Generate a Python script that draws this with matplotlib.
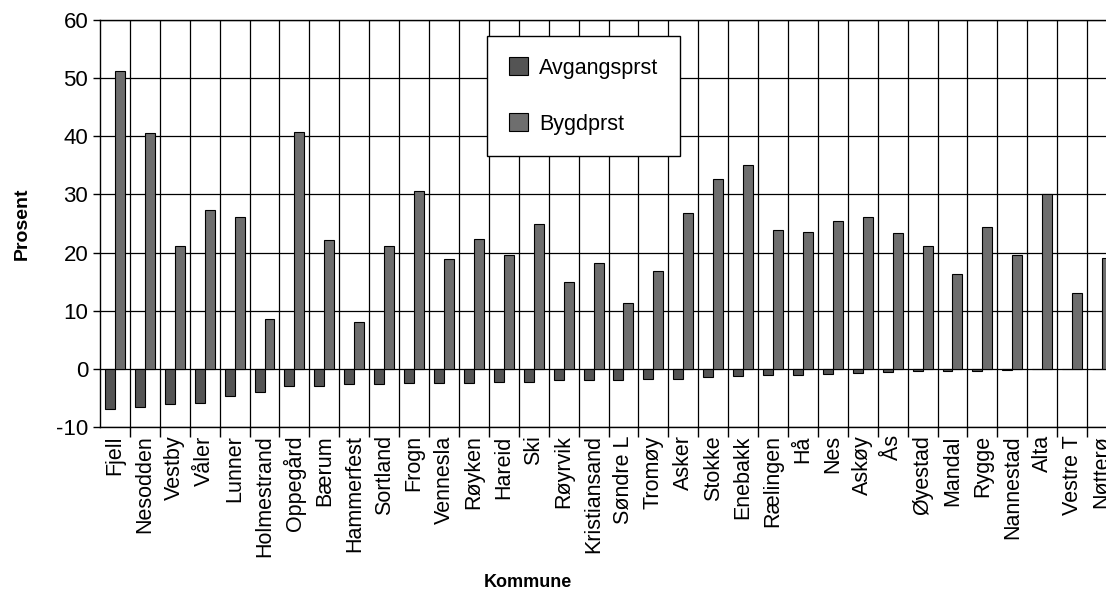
import matplotlib.pyplot as plt
import numpy as np

plt.rcParams['font.family'] = ['Liberation Sans', 'DejaVu Sans']
plt.rcParams['axes.unicode_minus'] = False

kommuner = ['Fjell', 'Nesodden', 'Vestby', 'Våler', 'Lunner', 'Holmestrand',
            'Oppegård', 'Bærum', 'Hammerfest', 'Sortland', 'Frogn', 'Vennesla',
            'Røyken', 'Hareid', 'Ski', 'Røyrvik', 'Kristiansand', 'Søndre L',
            'Tromøy', 'Asker', 'Stokke', 'Enebakk', 'Rælingen', 'Hå', 'Nes',
            'Askøy', 'Ås', 'Øyestad', 'Mandal', 'Rygge', 'Nannestad', 'Alta',
            'Vestre T', 'Nøtterø']

avgangsprst = [-6.9, -6.5, -6.0, -5.8, -4.7, -4.0, -3.0, -2.9, -2.6, -2.6,
               -2.5, -2.5, -2.4, -2.2, -2.2, -2.0, -1.9, -1.9, -1.8, -1.8,
               -1.4, -1.3, -1.1, -1.0, -0.9, -0.7, -0.6, -0.35, -0.3, -0.3,
               -0.2, -0.1, -0.1, -0.05]

bygdprst = [51.3, 40.5, 21.1, 27.4, 26.2, 8.5, 40.8, 22.2, 8.0, 21.1,
            30.6, 18.9, 22.3, 19.5, 24.9, 14.9, 18.2, 11.4, 16.9, 26.8,
            32.6, 35.0, 23.8, 23.5, 25.4, 26.1, 23.4, 21.1, 16.3, 24.4,
            19.6, 30.0, 13.0, 19.0]

y_ticks = [-10, 0, 10, 20, 30, 40, 50, 60]

fig = plt.figure(figsize=(11.06, 5.98), dpi=100)
ax = fig.add_axes([100 / 1106, 1 - 427 / 598, 1017 / 1106, 407 / 598])

x = np.arange(len(kommuner))
w = 1 / 3
ax.bar(x - w / 2, avgangsprst, w, color='#545454', edgecolor='black',
       linewidth=0.8, label='Avgangsprst', zorder=3)
ax.bar(x + w / 2, bygdprst, w, color='#6e6e6e', edgecolor='black',
       linewidth=0.8, label='Bygdprst', zorder=3)

ax.set_xlim(-0.5, len(kommuner) - 0.5)
ax.set_ylim(-10, 60)
ax.set_yticks(y_ticks)
ax.set_xticks(x)
ax.set_xticklabels(kommuner, rotation=90, fontsize=15.5)
ax.set_xticks(x[:-1] + 0.5, minor=True)
ax.tick_params(axis='x', which='major', length=0, pad=6)
ax.tick_params(axis='x', which='minor', length=7, width=1, color='black')
ax.tick_params(axis='y', labelsize=16, length=5, width=1)

ax.grid(True, axis='y', color='black', linewidth=0.9, zorder=0)
ax.grid(True, axis='x', which='minor', color='black', linewidth=0.9, zorder=0)
for s in ax.spines.values():
    s.set_color('black')
    s.set_linewidth(1)

ax.set_ylabel('Prosent', fontsize=14, fontweight='bold')
ax.yaxis.set_label_coords(-0.068, 0.5)
ax.set_xlabel('Kommune', fontsize=13, fontweight='bold')
ax.xaxis.set_label_coords(0.421, -0.36)

leg = ax.legend(loc='upper left', bbox_to_anchor=(0.381, 0.961), fontsize=15.5,
                handlelength=0.9, handleheight=0.9, handletextpad=0.5,
                labelspacing=1.6, borderpad=1.0, borderaxespad=0,
                fancybox=False, framealpha=1, edgecolor='black')
leg.get_frame().set_linewidth(1)
leg.set_zorder(5)

fig.savefig('out.png', dpi=100)
